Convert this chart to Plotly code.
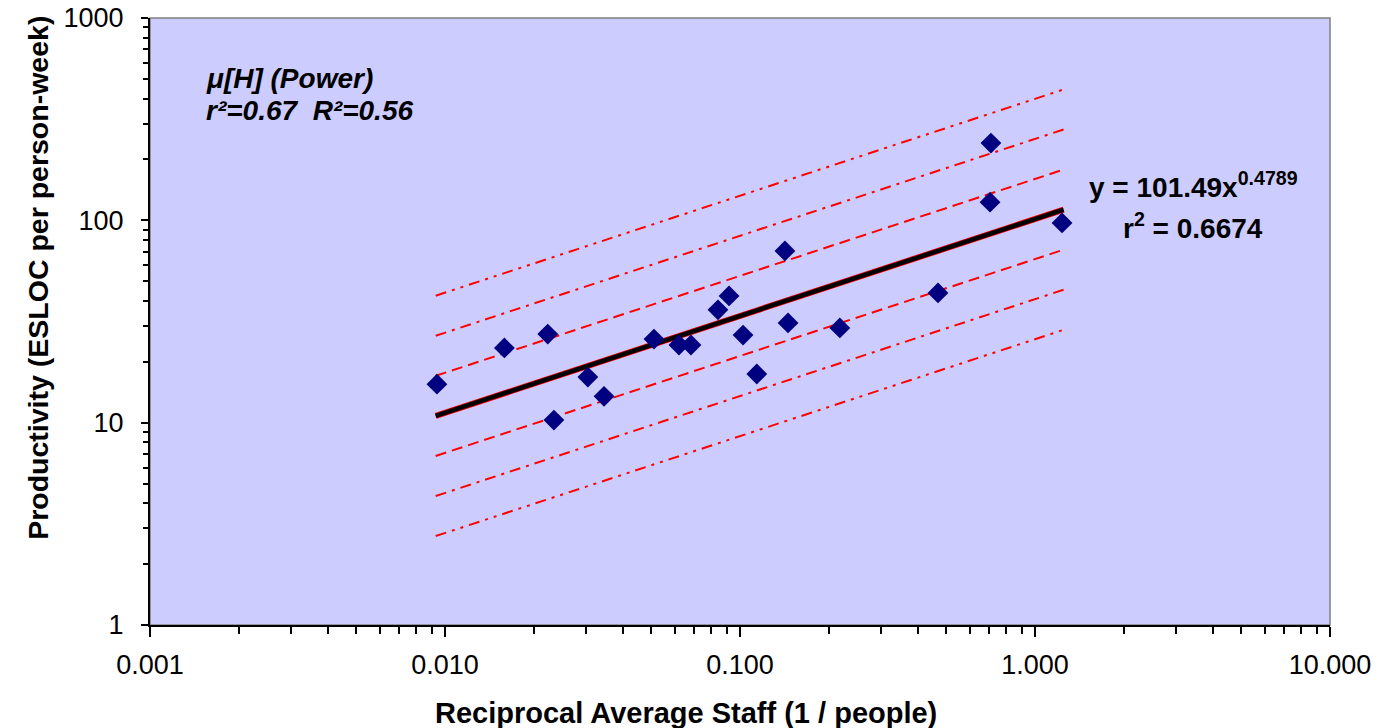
import plotly.graph_objects as go

# Data
staff_recip = [0.00939, 0.0159, 0.0223, 0.0234, 0.0305, 0.0346, 0.0511, 0.0621, 0.0682,
               0.0842, 0.0918, 0.1024, 0.114, 0.142, 0.1455, 0.218, 0.469, 0.704, 0.709, 1.235]
productivity = [15.5, 23.4, 27.4, 10.3, 16.8, 13.5, 25.9, 24.2, 24.2,
                36.1, 42.3, 27.1, 17.4, 70.6, 31.1, 29.4, 43.8, 123, 241, 97.1]

# Power fit y = a * x^b and spread bands (log10 sigma)
fit_a = 101.49
fit_b = 0.4789
fit_x = [0.0093, 1.25]
log_sigma = 0.198
band_k = [1, 2, 3]

x_tickvals = [0.001, 0.01, 0.1, 1, 10]
x_ticktext = ["0.001", "0.010", "0.100", "1.000", "10.000"]
y_tickvals = [1, 10, 100, 1000]
y_ticktext = ["1", "10", "100", "1000"]
minor_digits = [2, 3, 4, 5, 6, 7, 8, 9]

FONT = "Liberation Sans, Arial, sans-serif"

fit_y = [fit_a * x ** fit_b for x in fit_x]
x_minor = [d * t for t in x_tickvals[:-1] for d in minor_digits]
y_minor = [d * t for t in y_tickvals[:-1] for d in minor_digits]

fig = go.Figure()

dash_styles = {1: "11px,6px", 2: "11px,6px,3px,6px", 3: "11px,6px,3px,6px,3px,6px"}
for k in band_k:
    for sign in (1, -1):
        f = 10 ** (sign * k * log_sigma)
        fig.add_trace(go.Scatter(
            x=fit_x, y=[v * f for v in fit_y], mode="lines",
            line=dict(color="#FF0000", width=2, dash=dash_styles[k]),
            hoverinfo="skip", showlegend=False))

fig.add_trace(go.Scatter(x=fit_x, y=fit_y, mode="lines",
                         line=dict(color="#FF0000", width=6), showlegend=False))
fig.add_trace(go.Scatter(x=fit_x, y=fit_y, mode="lines",
                         line=dict(color="#000000", width=4.5), showlegend=False))

fig.add_trace(go.Scatter(x=staff_recip, y=productivity, mode="markers",
                         marker=dict(symbol="diamond", size=16, color="#000080",
                                     line=dict(width=0)),
                         showlegend=False))


def axis_style(minor_vals, major_len, minor_len):
    return dict(
        type="log", showgrid=False, zeroline=False, automargin=False,
        showline=True, linecolor="black", linewidth=2,
        ticks="outside", ticklen=major_len, tickwidth=2, tickcolor="black",
        tickfont=dict(family=FONT, size=27, color="black"),
        minor=dict(tickmode="array", tickvals=minor_vals, ticks="outside",
                   ticklen=minor_len, tickwidth=2, tickcolor="black", showgrid=False),
    )


fig.update_layout(
    width=1391, height=728,
    margin=dict(l=150, r=61, t=18, b=103),
    paper_bgcolor="white", plot_bgcolor="#CCCCFF",
    font=dict(family=FONT, color="black"),
    xaxis=dict(axis_style(x_minor, 10, 7), range=[-3, 1],
               tickvals=x_tickvals, ticktext=x_ticktext, ticklabelstandoff=5),
    yaxis=dict(axis_style(y_minor, 7, 5), range=[0, 3],
               tickvals=y_tickvals, ticktext=y_ticktext, ticklabelstandoff=12),
    shapes=[dict(type="rect", xref="paper", yref="paper", x0=0, x1=1, y0=0, y1=1,
                 line=dict(color="#808080", width=1.5), layer="below")],
    annotations=[
        dict(xref="paper", yref="paper", x=0.454, y=-0.145, xanchor="center", yanchor="middle",
             text="<b>Reciprocal Average Staff (1 / people)</b>", showarrow=False,
             font=dict(family=FONT, size=29, color="black")),
        dict(xref="paper", yref="paper", x=-0.0949, y=0.572, xanchor="center", yanchor="middle",
             text="<b>Productivity (ESLOC per person-week)</b>", showarrow=False, textangle=-90,
             font=dict(family=FONT, size=28.5, color="black")),
        dict(xref="paper", yref="paper", x=0.046, y=0.901, xanchor="left", yanchor="middle",
             text="<b><i>μ[H] (Power)</i></b>", showarrow=False,
             font=dict(family=FONT, size=28, color="black")),
        dict(xref="paper", yref="paper", x=0.046, y=0.848, xanchor="left", yanchor="middle",
             text="<b><i>r²=0.67  R²=0.56</i></b>", showarrow=False,
             font=dict(family=FONT, size=28, color="black")),
        dict(xref="paper", yref="paper", x=0.884, y=0.7255, xanchor="center", yanchor="middle",
             text="<b>y = 101.49x<sup>0.4789</sup></b>", showarrow=False,
             font=dict(family=FONT, size=28, color="black")),
        dict(xref="paper", yref="paper", x=0.884, y=0.658, xanchor="center", yanchor="middle",
             text="<b>r<sup>2</sup> = 0.6674</b>", showarrow=False,
             font=dict(family=FONT, size=28, color="black")),
    ],
)

fig.write_html("out.html")
